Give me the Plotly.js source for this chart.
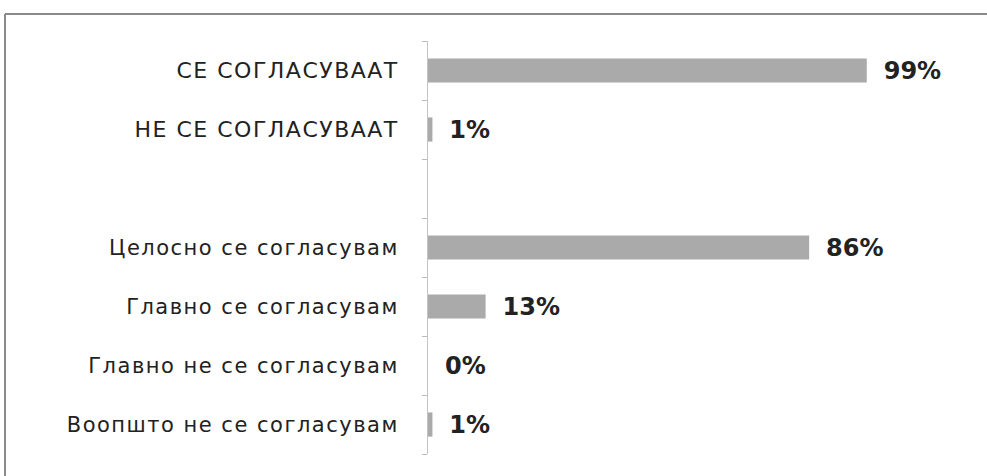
<!DOCTYPE html>
<html><head><meta charset="utf-8">
<script src="https://cdn.plot.ly/plotly-3.0.1.min.js"></script>
<style>html,body{margin:0;padding:0;background:#fff;}#chart{width:987px;height:476px;}
.ytick text{letter-spacing:1.5px;}</style>
</head><body><div id="chart"></div>
<script>
const categories = ["СЕ СОГЛАСУВААТ", "НЕ СЕ СОГЛАСУВААТ", " ", "Целосно се согласувам", "Главно се согласувам", "Главно не се согласувам", "Воопшто не се согласувам"];
const values = [99, 1, null, 86, 13, 0, 1];
const labels = values.map(v => v === null ? "" : "<span style='font-size:20px'>\u00a0\u00a0</span>" + v + "%");
const tickLabels = categories.map(c => c === c.toUpperCase() && c.trim() ? "<span style='font-size:22px'>" + c + "</span>" : c);

const W = 987, H = 476;
const M = {l: 428, r: 5, t: 41, b: 22};
const pw = W - M.l - M.r, ph = H - M.t - M.b;
const px = x => (x - M.l) / pw;
const py = y => 1 - (y - M.t) / ph;

const trace = {
  type: "bar", orientation: "h",
  x: values, y: categories,
  marker: {color: "#aaaaaa"},
  text: labels, textposition: "outside", cliponaxis: false, constraintext: "none",
  textfont: {family: "DejaVu Sans", size: 24, color: "#222", weight: "bold"},
  hoverinfo: "none"
};

const layout = {
  width: W, height: H, margin: M,
  paper_bgcolor: "#fff", plot_bgcolor: "#fff",
  showlegend: false, bargap: 0.59,
  xaxis: {visible: false, range: [0, 125], fixedrange: true},
  yaxis: {type: "category", autorange: "reversed", tickson: "boundaries",
    tickmode: "array", tickvals: categories, ticktext: tickLabels,
    ticks: "outside", ticklen: 5, tickcolor: "#bbb", showline: true, linecolor: "#c4c4c4", linewidth: 1,
    showgrid: false, zeroline: false, ticklabelstandoff: 24,
    tickfont: {family: "DejaVu Sans", size: 21, color: "#222"}},
  shapes: [
    {type: "line", xref: "paper", yref: "paper", x0: px(5), x1: px(990), y0: py(14), y1: py(14), line: {color: "#8a8a8a", width: 2}},
    {type: "line", xref: "paper", yref: "paper", x0: px(5), x1: px(5), y0: py(14), y1: py(480), line: {color: "#8a8a8a", width: 2}}
  ]
};
Plotly.newPlot("chart", [trace], layout, {displayModeBar: false, staticPlot: true});
</script></body></html>
